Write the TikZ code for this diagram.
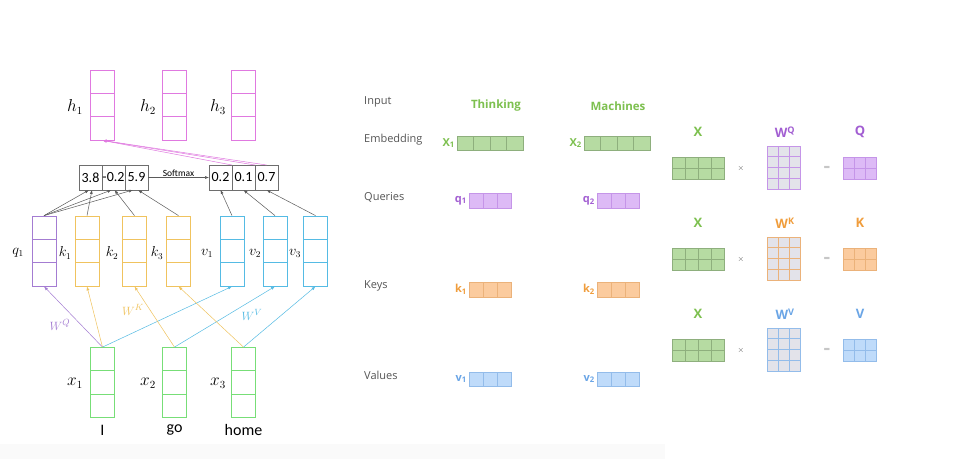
\documentclass[tikz,border=0pt]{standalone}
\usepackage{fontspec}
\usepackage{xcolor}
\usepackage{tikz}
\usetikzlibrary{arrows.meta,calc,positioning}
\newfontfamily\carlito{Carlito}
\newfontfamily\opensans{Open Sans}
\definecolor{HColor}{HTML}{E079E0}
\definecolor{QColor}{HTML}{A47CD2}
\definecolor{KColor}{HTML}{F0C35E}
\definecolor{VColor}{HTML}{55BBE4}
\definecolor{XColor}{HTML}{77DE77}
\definecolor{ScoreGray}{HTML}{6E6E6E}
\definecolor{ArrowGray}{HTML}{5A5A5A}
\definecolor{RowGray}{HTML}{555555}
\definecolor{GreenFill}{HTML}{B6DBA2}
\definecolor{GreenEdge}{HTML}{8EAF7D}
\definecolor{GreenLab}{HTML}{7DC04F}
\definecolor{PurpleFill}{HTML}{DDBAF6}
\definecolor{PurpleEdge}{HTML}{C595E8}
\definecolor{PurpleLab}{HTML}{A25ED2}
\definecolor{OrangeFill}{HTML}{FBCB9E}
\definecolor{OrangeEdge}{HTML}{EBB27A}
\definecolor{OrangeLab}{HTML}{F09D3C}
\definecolor{BlueFill}{HTML}{BFDBFA}
\definecolor{BlueEdge}{HTML}{93BCEA}
\definecolor{BlueLab}{HTML}{6AA5E6}
\definecolor{WFill}{HTML}{E3E3EA}

\tikzset{
  vecbox/.style={draw=#1, minimum width=24pt, minimum height=70pt, inner sep=0pt, line width=0.8pt,
    path picture={\draw[#1, line width=0.8pt]
      ($(path picture bounding box.north west)!1/3!(path picture bounding box.south west)$) --
      ($(path picture bounding box.north east)!1/3!(path picture bounding box.south east)$)
      ($(path picture bounding box.north west)!2/3!(path picture bounding box.south west)$) --
      ($(path picture bounding box.north east)!2/3!(path picture bounding box.south east)$);}},
  scorecell/.style={draw=ScoreGray, line width=0.7pt, minimum width=23pt, minimum height=25pt,
    inner sep=0pt, outer sep=0pt, font=\carlito\fontsize{14}{14}\selectfont},
  biglab/.style={inner sep=1pt, font=\fontsize{16}{16}\selectfont},
  smalllab/.style={inner sep=1pt, font=\fontsize{13.5}{13.5}\selectfont},
  wordlab/.style={inner sep=1pt, font=\carlito\fontsize{16}{16}\selectfont},
  conn/.style={draw=ArrowGray, line width=0.5pt, -{Latex[length=4pt,width=3pt]}},
  wconn/.style={draw=#1, line width=0.5pt, -{Latex[length=4pt,width=3pt]}},
  wlab/.style={text=#1, inner sep=1pt, font=\fontsize{13}{13}\selectfont},
  colcell/.style={draw=#1Edge, fill=#1Fill, line width=0.6pt},
  wcell/.style={draw=#1Edge, fill=WFill, line width=0.6pt},
  rowlab/.style={text=RowGray, anchor=west, inner sep=0pt, font=\opensans\fontsize{11}{11}\selectfont},
  wordhead/.style={text=GreenLab, inner sep=0pt, font=\opensans\bfseries\fontsize{11.5}{11.5}\selectfont},
  boxlab/.style={text=#1, inner sep=1pt, font=\opensans\bfseries\fontsize{11}{11}\selectfont},
  matlab/.style={text=#1, inner sep=0pt, font=\opensans\bfseries\fontsize{13}{13}\selectfont},
  oplab/.style={text=ArrowGray, inner sep=0pt, font=\fontsize{8}{8}\selectfont},
}

% name, left x, top y, columns, rows, cell width, cell height, style
\newcommand\gridbox[8]{%
  \foreach \cc in {1,...,#4}{\foreach \rr in {1,...,#5}{
    \node[#8, minimum width=#6pt, minimum height=#7pt, inner sep=0pt, outer sep=0pt, anchor=north west]
      (#1-\rr-\cc) at ({#2+(\cc-1)*#6},{#3+(\rr-1)*#7}) {};}}}

\begin{document}
\begin{tikzpicture}[x=1pt,y=-1pt,>=Latex]
  \useasboundingbox (0,0) rectangle (953,459);
  \fill[white] (0,0) rectangle (953,459);
  \fill[black!2] (0,444) rectangle (665,459);

  % left: self-attention over three words
  \foreach \i/\x/\lx/\w in {1/102.5/75/I,2/174.5/148/go,3/243.5/218/home}{
    \node[vecbox=HColor] (h\i) at (\x,105) {};
    \node[biglab] (lh\i) at (\lx,107) {$h_\i$};
    \node[vecbox=XColor] (x\i) at (\x,382.5) {};
    \node[biglab] (lx\i) at (\lx,383) {$x_\i$};
    \node[wordlab] (w\i) at (\x,430) {\w};
  }
  \node[vecbox=QColor] (q1) at (44,251) {};
  \foreach \i/\x in {1/87,2/134.5,3/178.5}
    \node[vecbox=KColor] (k\i) at (\x,251) {};
  \foreach \i/\x in {1/232,2/275,3/315.5}
    \node[vecbox=VColor] (v\i) at (\x,251) {};
  \node[smalllab] (lq1) at (18,253) {$q_1$};
  \foreach \i/\x in {1/65,2/112,3/157}
    \node[smalllab] (lk\i) at (\x,253) {$k_\i$};
  \foreach \i/\x in {1/207,2/255,3/295}
    \node[smalllab] (lv\i) at (\x,253) {$v_\i$};

  \node[scorecell] (s1) at (90.5,177.5) {3.8};
  \node[scorecell, right=0pt of s1] (s2) {-0.2};
  \node[scorecell, right=0pt of s2] (s3) {5.9};
  \node[scorecell] (p1) at (220.5,177.5) {0.2};
  \node[scorecell, right=0pt of p1] (p2) {0.1};
  \node[scorecell, right=0pt of p2] (p3) {0.7};
  \draw[conn] (s3.east) -- (p1.west) node[midway, above=1pt, text=black, inner sep=0pt,
    font=\carlito\fontsize{9.5}{9.5}\selectfont] (lsoft) {Softmax};

  \draw[conn] (q1.north) -- ([xshift=-1.5pt]s1.south);
  \draw[conn] (q1.north) -- ([xshift=-2pt]s2.south);
  \draw[conn] (q1.north) -- ([xshift=-3.5pt]s3.south);
  \draw[conn] (k1.north) -- ([xshift=1.5pt]s1.south);
  \draw[conn] (k2.north) -- ([xshift=1pt]s2.south);
  \draw[conn] (k3.north) -- ([xshift=1.5pt]s3.south);
  \draw[conn] (v1.north) -- (p1.south);
  \draw[conn] (v2.north) -- (p2.south);
  \draw[conn] (v3.north) -- (p3.south);

  \draw[wconn=HColor] (p2.north west) -- (h1.south);
  \draw[wconn=HColor] (p2.north east) -- (h1.south);
  \draw[wconn=HColor] (p3.north) -- (h1.south);

  \draw[wconn=QColor] (x1.north) -- (q1.south);
  \draw[wconn=KColor] (x1.north) -- (k1.south);
  \draw[wconn=VColor] (x1.north) -- (v1.south);
  \draw[wconn=KColor] (x2.north) -- (k2.south);
  \draw[wconn=VColor] (x2.north) -- (v2.south);
  \draw[wconn=KColor] (x3.north) -- (k3.south);
  \draw[wconn=VColor] (x3.north) -- (v3.south);
  \node[wlab=QColor] (lwq) at (60,325) {$W^Q$};
  \node[wlab=KColor] (lwk) at (133,310) {$W^K$};
  \node[wlab=VColor] (lwv) at (252,315) {$W^V$};

  % middle: vectors per word
  \node[rowlab] (linput) at (364,102) {Input};
  \node[rowlab] (lemb) at (364,140) {Embedding};
  \node[rowlab] (lqry) at (364,197) {Queries};
  \node[rowlab] (lkey) at (364,286) {Keys};
  \node[rowlab] (lval) at (364,375) {Values};
  \node[wordhead] (thinking) at (496,106) {Thinking};
  \node[wordhead] (machines) at (618,106) {Machines};

  \gridbox{emb1}{457}{136}{4}{1}{16.5}{14}{colcell=Green}
  \gridbox{emb2}{584}{136}{4}{1}{16.5}{14}{colcell=Green}
  \gridbox{qry1}{469}{193}{3}{1}{14}{15}{colcell=Purple}
  \gridbox{qry2}{597}{193}{3}{1}{14}{15}{colcell=Purple}
  \gridbox{key1}{469}{282}{3}{1}{14}{15}{colcell=Orange}
  \gridbox{key2}{597}{282}{3}{1}{14}{15}{colcell=Orange}
  \gridbox{val1}{469}{372}{3}{1}{14}{14}{colcell=Blue}
  \gridbox{val2}{597}{372}{3}{1}{14}{14}{colcell=Blue}
  \node[boxlab=GreenLab, left=1pt of emb1-1-1] (lemb1) {X\textsubscript{1}};
  \node[boxlab=GreenLab, left=1pt of emb2-1-1] (lemb2) {X\textsubscript{2}};
  \node[boxlab=PurpleLab, left=1pt of qry1-1-1] (lqry1) {q\textsubscript{1}};
  \node[boxlab=PurpleLab, left=1pt of qry2-1-1] (lqry2) {q\textsubscript{2}};
  \node[boxlab=OrangeLab, left=1pt of key1-1-1] (lkey1) {k\textsubscript{1}};
  \node[boxlab=OrangeLab, left=1pt of key2-1-1] (lkey2) {k\textsubscript{2}};
  \node[boxlab=BlueLab, left=1pt of val1-1-1] (lval1) {v\textsubscript{1}};
  \node[boxlab=BlueLab, left=1pt of val2-1-1] (lval2) {v\textsubscript{2}};

  % right: matrix form
  \foreach \nm/\yy/\cl in {Q/0/Purple,K/91/Orange,V/182/Blue}{
    \gridbox{x\nm}{672}{157+\yy}{4}{2}{13}{11}{colcell=Green}
    \gridbox{w\nm}{767}{146+\yy}{3}{4}{11}{10.75}{wcell=\cl}
    \gridbox{r\nm}{843}{157+\yy}{3}{2}{11}{11}{colcell=\cl}
    \node[matlab=GreenLab] (lx\nm) at (698,132+\yy) {X};
    \node[matlab=\cl Lab] (lw\nm) at (785,132+\yy) {W\textsuperscript{\nm}};
    \node[matlab=\cl Lab] (lr\nm) at (860,132+\yy) {\nm};
    \node[oplab] (times\nm) at (741,168+\yy) {$\times$};
    \node[oplab] (eq\nm) at (827,168+\yy) {$=$};
  }
\end{tikzpicture}
\end{document}
